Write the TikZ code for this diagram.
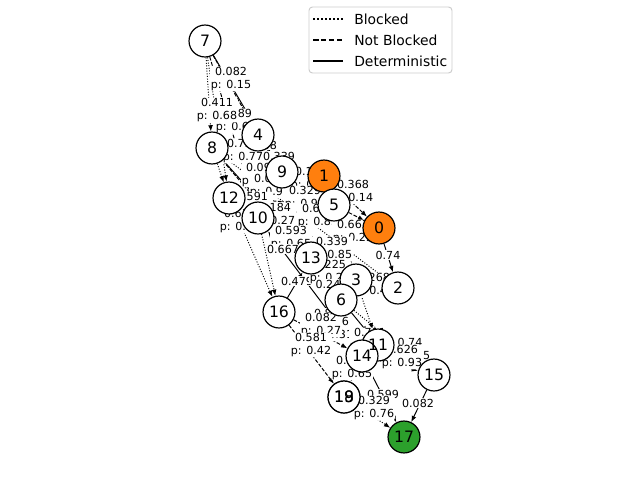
\documentclass[tikz,border=0pt]{standalone}
\usepackage{fontspec}
\setmainfont{DejaVu Sans}
\usetikzlibrary{arrows.meta}
\definecolor{taborange}{HTML}{FF7F0E}
\definecolor{tabgreen}{HTML}{2CA02C}
\pgfdeclarelayer{edgelayer}
\pgfdeclarelayer{lablayer}
\pgfdeclarelayer{textlayer}
\pgfsetlayers{edgelayer,lablayer,main,textlayer}
\begin{document}
\begin{tikzpicture}[x=0.72pt,y=-0.72pt,
  vtx/.style={circle,draw=black,line width=0.85pt,fill=white,minimum size=23pt,inner sep=0pt},
  vtxt/.style={inner sep=0pt,font=\fontsize{11.3}{13}\selectfont},
  elab/.style={fill=white,rounded corners=1.5pt,inner sep=0.5pt,align=center,font=\fontsize{8}{9.2}\selectfont},
  arr/.style={-{Latex[length=4.5pt,width=3.5pt]},line width=0.7pt},
  blk/.style={arr,dash pattern=on 0.7pt off 1.2pt},
  nbl/.style={arr,dash pattern=on 2.7pt off 1.2pt},
  det/.style={arr},
  legtxt/.style={anchor=west,inner sep=0pt,font=\fontsize{10}{12}\selectfont}]
\useasboundingbox (0,0) rectangle (640,480);
% node circles
\foreach \i/\x/\y/\c in {0/379/228/taborange,1/324/176/taborange,2/398/288/white,3/356/280/white,
  4/258/135/white,5/334/205/white,6/341/300/white,7/205/41/white,8/212/148/white,9/282/172/white,
  10/258/218/white,11/378/345/white,12/229/198/white,13/311/258/white,14/362/356/white,
  15/434/375/white,16/279/312/white,17/404/437/tabgreen,18/344/397/white,19/344/397/white}
  {\node[vtx,fill=\c] (n\i) at (\x,\y) {};}
% node texts
\begin{pgfonlayer}{textlayer}
\foreach \i in {0,...,19} {\node[vtxt] (t\i) at (n\i) {\i};}
\end{pgfonlayer}
% connectors
\begin{pgfonlayer}{edgelayer}
\draw[blk] (n7) -- (n8);
\draw[blk] (n7) -- (n12);
\draw[blk] (n8) -- (n12);
\draw[blk] (n8) -- (n9);
\draw[blk] (n12) -- (n16);
\draw[blk] (n9) -- (n5);
\draw[blk] (n10) -- (n5);
\draw[blk] (n8) -- (n2);
\draw[blk] (n1) -- (n3);
\draw[blk] (n5) -- (n3);
\draw[blk] (n3) -- (n2);
\draw[blk] (n6) -- (n15);
\draw[blk] (n3) -- (n11);
\draw[blk] (n14) -- (n15);
\draw[blk] (n18) -- (n17);
\draw[blk] (n10) -- (n16);
\draw[nbl] (n7) -- (n4);
\draw[nbl] (n7) -- (n10);
\draw[nbl] (n4) -- (n9);
\draw[nbl] (n9) -- (n1);
\draw[nbl] (n12) -- (n13);
\draw[nbl] (n1) -- (n0);
\draw[nbl] (n5) -- (n0);
\draw[nbl] (n13) -- (n3);
\draw[nbl] (n16) -- (n14);
\draw[nbl] (n16) -- (n18);
\draw[nbl] (n14) -- (n19);
\draw[nbl] (n9) -- (n6);
\draw[nbl] (n8) -- (n6);
\draw[nbl] (n12) -- (n5);
\draw[det] (n7) -- (n9);
\draw[det] (n0) -- (n2);
\draw[det] (n16) -- (n13);
\draw[det] (n14) -- (n10);
\draw[det] (n6) -- (n11);
\draw[det] (n8) -- (n13);
\draw[det] (n14) -- (n17);
\draw[det] (n15) -- (n17);
\end{pgfonlayer}
% connector labels
\begin{pgfonlayer}{lablayer}
\node[elab] (l3) at (236,121) {0.389\\p: 0.67};
\node[elab] (l2) at (217,110) {0.411\\p: 0.68};
\node[elab] (l1) at (231,79) {0.082\\p: 0.15};
\node[elab] (l5) at (261,145) {0.208};
\node[elab] (l4) at (243,151) {0.754\\p: 0.77};
\node[elab] (l6) at (279,156) {0.339};
\node[elab] (l7) at (262,175) {0.096\\p: 0.34};
\node[elab] (l8) at (270,186) {0.045\\p: 0.91};
\node[elab] (l9) at (311,179) {0.113\\p: 0.86};
\node[elab] (l11) at (305,198) {0.329\\p: 0.91};
\node[elab] (l10) at (353,192) {0.368\\p: 0.14};
\node[elab] (l14) at (252,204) {0.591\\p: 0.98};
\node[elab] (l15) at (240,221) {0.612\\p: 0.43};
\node[elab] (l13) at (275,215) {0.184\\p: 0.27};
\node[elab] (l12) at (318,216) {0.651\\p: 0.85};
\node[elab] (l18) at (353,232) {0.663\\p: 0.25};
\node[elab] (l16) at (291,238) {0.593\\p: 0.65};
\node[elab] (l19) at (283,249) {0.667};
\node[elab] (l17) at (332,249) {0.339\\p: 0.85};
\node[elab] (l20) at (297,281) {0.479};
\node[elab] (l21) at (388,255) {0.74};
\node[elab] (l22) at (330,272) {0.225\\p: 0.26};
\node[elab] (l23) at (328,284) {0.24};
\node[elab] (l24) at (374,285) {0.268\\p: 0.41};
\node[elab] (l25) at (330,313) {0.857};
\node[elab] (l27) at (333,329) {0.546\\p: 0.31};
\node[elab] (l26) at (321,325) {0.082\\p: 0.27};
\node[elab] (l29) at (370,340) {0.711\\p: 0.55};
\node[elab] (l30) at (311,345) {0.581\\p: 0.42};
\node[elab] (l31) at (410,350) {0.74\\p: 0.95};
\node[elab] (l32) at (402,357) {0.626\\p: 0.93};
\node[elab] (l28) at (352,368) {0.538\\p: 0.65};
\node[elab] (l33) at (383,394) {0.599};
\node[elab] (l34) at (374,408) {0.329\\p: 0.76};
\node[elab] (l35) at (418,403) {0.082};
\end{pgfonlayer}
% legend
\node[draw=black!20,fill=white,fill opacity=0.8,rounded corners=2.5pt,line width=0.7pt,
  minimum width=143*0.72pt,minimum height=66*0.72pt,inner sep=0pt] (legbox) at (380.5,40) {};
\coordinate (lga1) at (313,19); \coordinate (lgb1) at (343,19);
\coordinate (lga2) at (313,40); \coordinate (lgb2) at (343,40);
\coordinate (lga3) at (313,61); \coordinate (lgb3) at (343,61);
\draw[line width=1.1pt,dash pattern=on 1.1pt off 1.8pt] (lga1) -- (lgb1);
\draw[line width=1.1pt,dash pattern=on 4pt off 1.7pt] (lga2) -- (lgb2);
\draw[line width=1.1pt] (lga3) -- (lgb3);
\node[legtxt] (lgt1) at (354,19) {Blocked};
\node[legtxt] (lgt2) at (354,40) {Not Blocked};
\node[legtxt] (lgt3) at (354,61) {Deterministic};
\end{tikzpicture}
\end{document}
